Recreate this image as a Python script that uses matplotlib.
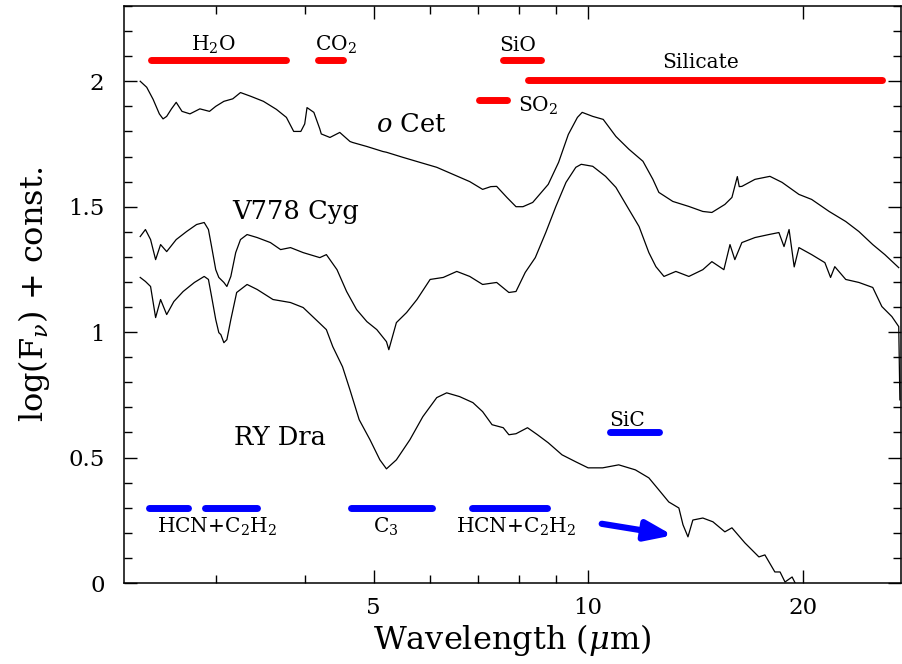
import matplotlib
matplotlib.use("Agg")
import matplotlib.pyplot as plt
from matplotlib.ticker import FixedLocator, FixedFormatter, NullFormatter

plt.rcParams['font.family'] = ['DejaVu Serif']
plt.rcParams['mathtext.fontset'] = 'dejavuserif'

# o Cet spectrum (wavelength in micron, log F + const)
ocet_wl = [2.35, 2.40, 2.45, 2.50, 2.53, 2.56, 2.60, 2.64, 2.69, 2.76, 2.85, 2.94,
           3.00, 3.08, 3.17, 3.25, 3.36, 3.50, 3.65, 3.77, 3.86, 3.95, 4.00, 4.03,
           4.12, 4.20, 4.22, 4.34, 4.48, 4.63, 4.67, 4.89, 5.15, 5.21, 5.49, 5.80,
           6.13, 6.46, 6.82, 7.11, 7.30, 7.44, 7.69, 7.92, 8.10, 8.36, 8.79, 9.09,
           9.38, 9.66, 9.81, 10.15, 10.5, 10.94, 11.41, 11.94, 12.33, 12.57, 13.15,
           13.85, 14.49, 14.92, 15.56, 15.92, 16.2, 16.3, 16.44, 17.15, 18.0, 18.72,
           19.77, 20.6, 21.8, 23.0, 24.0, 25.1, 26.1, 27.3]
ocet_fl = [2.00, 1.976, 1.928, 1.87, 1.85, 1.86, 1.89, 1.916, 1.88, 1.87, 1.89, 1.88,
           1.90, 1.92, 1.93, 1.955, 1.94, 1.92, 1.888, 1.856, 1.80, 1.80, 1.83, 1.895,
           1.876, 1.81, 1.79, 1.776, 1.796, 1.76, 1.756, 1.74, 1.72, 1.717, 1.697, 1.677,
           1.657, 1.629, 1.60, 1.569, 1.58, 1.581, 1.537, 1.50, 1.50, 1.517, 1.589, 1.677,
           1.788, 1.856, 1.876, 1.86, 1.848, 1.78, 1.729, 1.681, 1.609, 1.557, 1.521,
           1.501, 1.481, 1.477, 1.509, 1.537, 1.62, 1.58, 1.581, 1.609, 1.621, 1.597,
           1.549, 1.529, 1.481, 1.441, 1.401, 1.349, 1.309, 1.257]

# V778 Cyg spectrum
cyg_wl = [2.35, 2.39, 2.43, 2.47, 2.51, 2.56, 2.64, 2.73, 2.82, 2.89, 2.93, 2.96,
          3.00, 3.03, 3.08, 3.11, 3.15, 3.20, 3.25, 3.32, 3.43, 3.58, 3.70, 3.82,
          3.98, 4.20, 4.29, 4.44, 4.58, 4.73, 4.89, 5.05, 5.21, 5.25, 5.38, 5.56,
          5.75, 6.0, 6.26, 6.54, 6.82, 7.11, 7.44, 7.74, 7.92, 8.16, 8.43, 8.72,
          9.01, 9.31, 9.61, 9.78, 10.15, 10.58, 10.94, 11.41, 11.79, 12.17, 12.45,
          12.78, 13.28, 13.85, 14.49, 14.92, 15.51, 15.82, 16.07, 16.44, 17.15,
          17.94, 18.53, 18.84, 19.15, 19.47, 19.77, 20.6, 21.5, 21.9, 22.2, 23.0,
          24.0, 25.1, 25.85, 26.7, 27.3, 27.4]
cyg_fl = [1.381, 1.409, 1.369, 1.289, 1.349, 1.321, 1.369, 1.401, 1.429, 1.437, 1.409, 1.341,
          1.249, 1.218, 1.198, 1.182, 1.222, 1.317, 1.369, 1.389, 1.377, 1.357, 1.329, 1.337,
          1.317, 1.297, 1.309, 1.249, 1.162, 1.09, 1.042, 1.01, 0.962, 0.93, 1.038, 1.078,
          1.13, 1.21, 1.218, 1.242, 1.222, 1.19, 1.198, 1.158, 1.162, 1.238, 1.297, 1.397,
          1.501, 1.597, 1.657, 1.669, 1.661, 1.621, 1.577, 1.489, 1.421, 1.317, 1.261,
          1.222, 1.242, 1.222, 1.249, 1.281, 1.249, 1.349, 1.289, 1.357, 1.377,
          1.389, 1.397, 1.341, 1.409, 1.26, 1.337, 1.309, 1.277, 1.218, 1.261, 1.21,
          1.198, 1.178, 1.102, 1.062, 1.022, 0.73]

# RY Dra spectrum
dra_wl = [2.35, 2.39, 2.43, 2.47, 2.51, 2.56, 2.62, 2.70, 2.80, 2.89, 2.93, 2.96,
          3.00, 3.03, 3.05, 3.08, 3.11, 3.15, 3.21, 3.32, 3.43, 3.61, 3.82, 3.98,
          4.20, 4.29, 4.38, 4.52, 4.63, 4.77, 4.94, 5.10, 5.21, 5.38, 5.62, 5.86,
          6.13, 6.33, 6.60, 6.89, 7.11, 7.33, 7.60, 7.74, 7.92, 8.22, 8.49, 8.79,
          9.19, 9.61, 10.0, 10.48, 11.04, 11.65, 12.17, 12.57, 12.98, 13.41, 13.59,
          13.81, 14.03, 14.49, 14.97, 15.56, 15.92, 16.6, 17.37, 17.71, 18.29, 18.6,
          18.9, 19.34, 19.53]
dra_fl = [1.218, 1.202, 1.182, 1.058, 1.13, 1.07, 1.122, 1.162, 1.198, 1.222, 1.21, 1.142,
          1.05, 0.998, 0.99, 0.958, 0.97, 1.05, 1.158, 1.19, 1.17, 1.13, 1.118, 1.098,
          1.035, 1.01, 0.942, 0.862, 0.77, 0.651, 0.571, 0.491, 0.455, 0.491, 0.571, 0.663,
          0.739, 0.758, 0.743, 0.719, 0.683, 0.631, 0.619, 0.591, 0.595, 0.619, 0.591, 0.559,
          0.511, 0.483, 0.459, 0.459, 0.471, 0.451, 0.419, 0.371, 0.323, 0.299, 0.232,
          0.184, 0.251, 0.259, 0.244, 0.204, 0.22, 0.16, 0.104, 0.112, 0.044, 0.044,
          0.004, 0.024, 0.0]

# oxygen-rich features (red bars): name, start, end, level
red_names = ['H2O', 'CO2', 'SiO', 'Silicate', 'SO2']
red_start = [2.43, 4.17, 7.60, 8.23, 7.03]
red_end = [3.76, 4.52, 8.58, 25.9, 7.69]
red_level = [2.084, 2.084, 2.084, 2.004, 1.924]

# carbon-rich features (blue bars)
blue_start = [2.42, 2.90, 4.64, 6.87, 10.73]
blue_end = [2.74, 3.43, 6.03, 8.75, 12.57]
blue_level = [0.30, 0.30, 0.30, 0.30, 0.603]

fig = plt.figure(figsize=(9.02, 6.64), dpi=100)
ax = fig.add_axes([124 / 902, 81 / 664, 777 / 902, 577 / 664])

for wl, fl in [(ocet_wl, ocet_fl), (cyg_wl, cyg_fl), (dra_wl, dra_fl)]:
    ax.plot(wl, fl, color='black', lw=0.9)

for s, e, lev in zip(red_start, red_end, red_level):
    ax.plot([s, e], [lev, lev], color='#ff0000', lw=5, solid_capstyle='round')
for s, e, lev in zip(blue_start, blue_end, blue_level):
    ax.plot([s, e], [lev, lev], color='#0000ff', lw=5, solid_capstyle='round')

# arrow pointing at the 14 micron feature of RY Dra
ax.annotate('', xy=(13.15, 0.19), xytext=(10.45, 0.236),
            arrowprops=dict(arrowstyle='-|>,head_length=0.8,head_width=0.3',
                            color='#0000ff', lw=4.5, mutation_scale=20,
                            shrinkA=0, shrinkB=0))

fs = 14.5
ax.text(2.98, 2.12, 'H$_2$O', fontsize=fs, ha='center', va='baseline')
ax.text(4.13, 2.12, 'CO$_2$', fontsize=fs, ha='left', va='baseline')
ax.text(7.96, 2.12, 'SiO', fontsize=fs, ha='center', va='baseline')
ax.text(14.4, 2.052, 'Silicate', fontsize=fs, ha='center', va='baseline')
ax.text(7.96, 1.88, 'SO$_2$', fontsize=fs, ha='left', va='baseline')
ax.text(11.33, 0.627, 'SiC', fontsize=fs, ha='center', va='baseline')
ax.text(3.01, 0.2, 'HCN+C$_2$H$_2$', fontsize=fs, ha='center', va='baseline')
ax.text(7.93, 0.2, 'HCN+C$_2$H$_2$', fontsize=fs, ha='center', va='baseline')
ax.text(5.2, 0.2, 'C$_3$', fontsize=fs, ha='center', va='baseline')

ax.text(5.65, 1.798, '$o$ Cet', fontsize=18.5, ha='center', va='baseline')
ax.text(3.88, 1.449, 'V778 Cyg', fontsize=18.5, ha='center', va='baseline')
ax.text(3.69, 0.551, 'RY Dra', fontsize=18.5, ha='center', va='baseline')

ax.set_xscale('log')
ax.set_xlim(2.23, 27.5)
ax.set_ylim(0, 2.3)

ax.xaxis.set_major_locator(FixedLocator([5, 10, 20]))
ax.xaxis.set_major_formatter(FixedFormatter(['5', '10', '20']))
ax.xaxis.set_minor_locator(FixedLocator([3, 4, 6, 7, 8, 9]))
ax.xaxis.set_minor_formatter(NullFormatter())
ax.yaxis.set_major_locator(FixedLocator([0, 0.5, 1, 1.5, 2]))
ax.yaxis.set_major_formatter(FixedFormatter(['0', '0.5', '1', '1.5', '2']))
ax.yaxis.set_minor_locator(FixedLocator([i / 10 for i in range(24)]))

ax.tick_params(which='both', direction='in', top=True, right=True, width=1.0,
               labelsize=16.5)
ax.tick_params(which='major', length=9.5)
ax.tick_params(which='minor', length=5.5)
ax.tick_params(axis='y', which='major', pad=14)
ax.tick_params(axis='x', which='major', pad=10)
for sp in ax.spines.values():
    sp.set_linewidth(1.1)

ax.set_xlabel(r'Wavelength ($\mu$m)', fontsize=23, labelpad=2)
ax.set_ylabel(r'log(F$_\nu$) + const.', fontsize=23, labelpad=12)

fig.savefig('out.png', dpi=100)
